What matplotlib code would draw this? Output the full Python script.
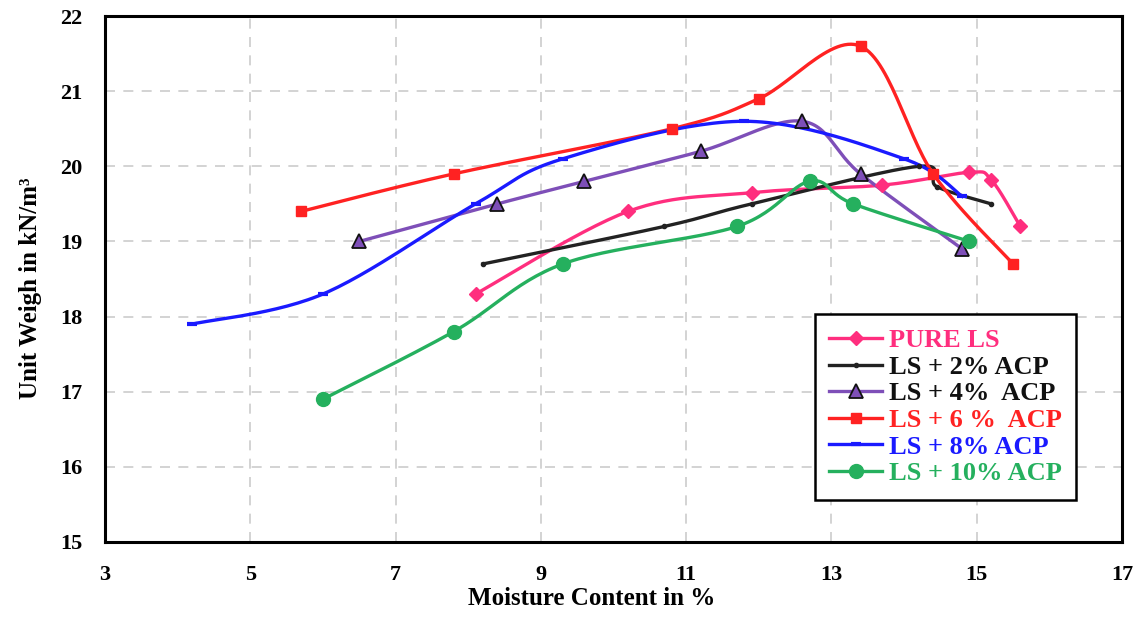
import numpy as np
import matplotlib
matplotlib.use("Agg")
import matplotlib.pyplot as plt
from matplotlib.lines import Line2D

plt.rcParams['font.family'] = ['Liberation Serif', 'DejaVu Serif']
plt.rcParams['font.weight'] = 'bold'

# data (moisture %, unit weight kN/m3)
pure_x = [8.1, 10.2, 11.9, 13.7, 14.9, 15.2, 15.6]
pure_y = [18.3, 19.4, 19.65, 19.75, 19.92, 19.82, 19.2]

acp2_x = [8.2, 10.7, 11.9, 14.2, 14.45, 15.2]
acp2_y = [18.7, 19.2, 19.5, 20.0, 19.73, 19.5]

acp4_x = [6.5, 8.4, 9.6, 11.2, 12.6, 13.4, 14.8]
acp4_y = [19.0, 19.5, 19.8, 20.2, 20.6, 19.9, 18.9]

acp6_x = [5.7, 7.8, 10.8, 12.0, 13.4, 14.4, 15.5]
acp6_y = [19.4, 19.9, 20.5, 20.9, 21.6, 19.9, 18.7]

acp8_x = [4.2, 6.0, 8.1, 9.3, 11.8, 14.0, 14.8]
acp8_y = [17.9, 18.3, 19.5, 20.1, 20.6, 20.1, 19.6]

acp10_x = [6.0, 7.8, 9.3, 11.7, 12.7, 13.3, 14.9]
acp10_y = [16.9, 17.8, 18.7, 19.2, 19.8, 19.5, 19.0]

labels = ['PURE LS', 'LS + 2% ACP', 'LS + 4%  ACP', 'LS + 6 %  ACP',
          'LS + 8% ACP', 'LS + 10% ACP']
colors = ['#FF2E7E', '#222222', '#7E4FB8', '#FF2222', '#1A1AFF', '#25B05E']
label_colors = ['#FF2E7E', '#111111', '#111111', '#FF2222', '#1A1AFF', '#25B05E']


def smooth(xs, ys, n=30):
    # excel-like smoothed line through the points (cubic bezier)
    p = np.column_stack([xs, ys]).astype(float)
    out = []
    for i in range(len(p) - 1):
        p0 = p[i - 1] if i > 0 else p[i]
        p1 = p[i]
        p2 = p[i + 1]
        p3 = p[i + 2] if i + 2 < len(p) else p[i + 1]
        c1 = p1 + (p2 - p0) / 6
        c2 = p2 - (p3 - p1) / 6
        t = np.linspace(0, 1, n)[:, None]
        seg = ((1 - t) ** 3) * p1 + 3 * ((1 - t) ** 2) * t * c1 \
            + 3 * (1 - t) * t ** 2 * c2 + t ** 3 * p2
        out.append(seg if i == 0 else seg[1:])
    out = np.vstack(out)
    return out[:, 0], out[:, 1]


fig = plt.figure(figsize=(11.42, 6.2), dpi=100)
ax = fig.add_axes([0.092, 0.126, 0.8905, 0.848])

series = [
    (pure_x, pure_y, dict(marker='D', ms=7.5)),
    (acp2_x, acp2_y, dict(marker='o', ms=3)),
    (acp4_x, acp4_y, dict(marker='^', ms=10, mec='#111111', mew=1.3)),
    (acp6_x, acp6_y, dict(marker='s', ms=7)),
    (acp8_x, acp8_y, dict(marker='_', ms=7, mew=3)),
    (acp10_x, acp10_y, dict(marker='o', ms=10)),
]

handles = []
for (xs, ys, mk), c, lab in zip(series, colors, labels):
    sx, sy = smooth(xs, ys)
    ax.plot(sx, sy, color=c, lw=2.4, zorder=3)
    ax.plot(xs, ys, ls='none', color=c, zorder=4, **mk)
    handles.append(Line2D([], [], color=c, lw=2.4, **mk))

ax.set_xlim(3, 17)
ax.set_ylim(15, 22)
ax.set_xticks(np.arange(3, 18, 2))
ax.set_yticks(np.arange(15, 23, 1))
ax.grid(True, ls=(0, (6, 5)), color='#CCCCCC', lw=1.2, zorder=0)
ax.tick_params(length=0, labelsize=16)
ax.tick_params(axis='x', pad=17)
ax.tick_params(axis='y', pad=16)
for s in ax.spines.values():
    s.set_linewidth(2.2)
    s.set_color('black')

ax.set_xlabel('Moisture Content in %', fontsize=18, fontweight='bold')
ax.xaxis.set_label_coords(0.479, -0.085)
ax.set_ylabel('Unit Weigh in kN/m³', fontsize=18, fontweight='bold')
ax.yaxis.set_label_coords(-0.062, 0.482)

leg = ax.legend(handles, labels, loc='lower left', bbox_to_anchor=(0.698, 0.08),
                borderaxespad=0, fancybox=False, framealpha=1, edgecolor='black',
                prop={'size': 19, 'weight': 'bold'}, handlelength=2.0,
                labelspacing=0.12, handletextpad=0.25, borderpad=0.55)
leg.get_frame().set_linewidth(1.8)
for t, c in zip(leg.get_texts(), label_colors):
    t.set_color(c)

fig.savefig('out.png', dpi=100)
